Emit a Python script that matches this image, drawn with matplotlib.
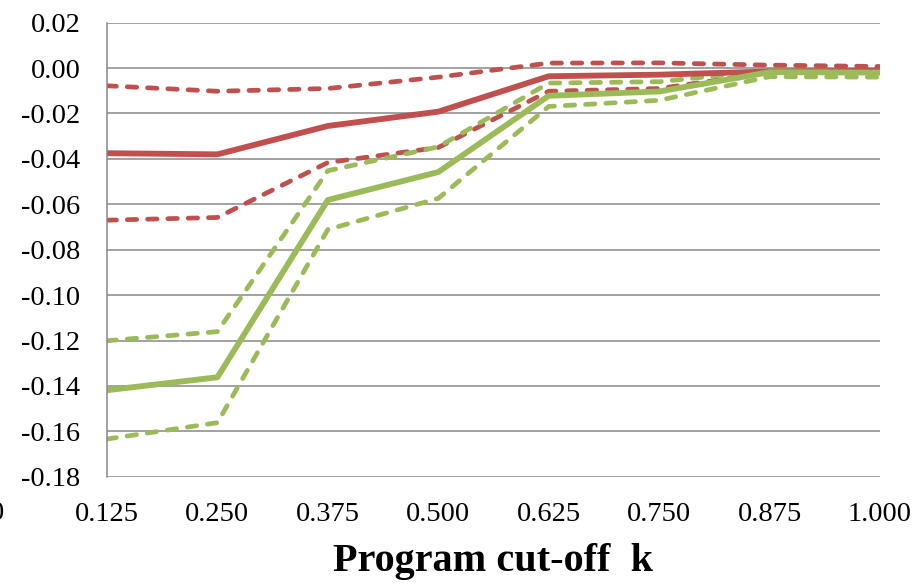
import matplotlib
matplotlib.use("Agg")
import matplotlib.pyplot as plt
from matplotlib.transforms import blended_transform_factory

# program cut-off values on the x axis
cutoffs = [0.125, 0.250, 0.375, 0.500, 0.625, 0.750, 0.875, 1.000]
tick_labels = ["0.125", "0.250", "0.375", "0.500", "0.625", "0.750", "0.875", "1.000"]

# red series: estimate with upper / lower bands
red_est = [-0.0375, -0.038, -0.0255, -0.0192, -0.0036, -0.0029, -0.0015, -0.0012]
red_hi = [-0.0078, -0.0102, -0.0090, -0.0040, 0.0022, 0.0023, 0.0013, 0.0007]
red_lo = [-0.0670, -0.0658, -0.0416, -0.0350, -0.0102, -0.0090, -0.0020, -0.0018]

# green series: estimate with upper / lower bands
green_est = [-0.1419, -0.1362, -0.0581, -0.0458, -0.0122, -0.0103, -0.0018, -0.0020]
green_hi = [-0.1201, -0.1161, -0.0452, -0.0347, -0.0066, -0.0060, -0.0010, -0.0012]
green_lo = [-0.1634, -0.1562, -0.0711, -0.0574, -0.0169, -0.0142, -0.0038, -0.0040]

yticks = [0.02, 0.00, -0.02, -0.04, -0.06, -0.08, -0.10, -0.12, -0.14, -0.16, -0.18]

red = "#C0504D"
green = "#9BBB59"
grid = "#878787"

plt.rcParams["font.family"] = ["Liberation Serif", "DejaVu Serif"]

fig = plt.figure(figsize=(9.23, 5.86), dpi=100)
ax = fig.add_axes([0.1159, 0.1865, 0.8375, 0.7748])

solid_w = 4.2
dash_w = 3.4
dash = (2.0, 2.3)

for vals, col in [(red_hi, red), (red_lo, red), (green_hi, green), (green_lo, green)]:
    ax.plot(cutoffs, vals, color=col, lw=dash_w, dashes=dash,
            dash_capstyle="round", dash_joinstyle="round")
ax.plot(cutoffs, red_est, color=red, lw=solid_w)
ax.plot(cutoffs, green_est, color=green, lw=solid_w)

ax.set_xlim(0.125, 1.0)
ax.set_ylim(-0.18, 0.02)
ax.set_xticks(cutoffs)
ax.set_xticklabels(tick_labels)
ax.set_yticks(yticks)
ax.set_yticklabels(["%.2f" % v if v != 0 else "0.00" for v in yticks])

ax.grid(axis="y", color=grid, lw=1.1)
ax.set_axisbelow(True)
for side in ["top", "right", "bottom"]:
    ax.spines[side].set_visible(False)
ax.spines["left"].set_color(grid)
ax.spines["left"].set_linewidth(1.1)

ax.tick_params(axis="both", length=0, labelsize=20.5)
ax.tick_params(axis="y", pad=19)
ax.tick_params(axis="x", pad=18)

# leftmost category label sits off the canvas edge
trans = blended_transform_factory(ax.transData, ax.transAxes)
ax.text(0.0, -0.054, "0", transform=trans, fontsize=20.5, ha="center", va="top",
        clip_on=False)

ax.set_xlabel("Program cut-off  k", fontsize=29, fontweight="bold", labelpad=12)

fig.savefig("out.png", dpi=100)
